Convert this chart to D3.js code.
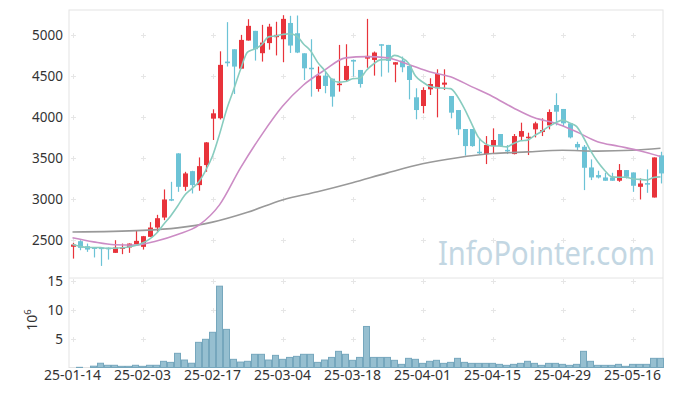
<!DOCTYPE html>
<html>
<head>
<meta charset="utf-8">
<script src="https://cdn.jsdelivr.net/npm/d3@7"></script>
<style>
  body { margin: 0; background: #fff; }
  svg text { font-family: "Noto Sans", sans-serif; }
</style>
</head>
<body>
<div id="chart"></div>
<script>
// trading days shown on the chart
var dates = [
  "25-01-14","25-01-15","25-01-16","25-01-17","25-01-20","25-01-21","25-01-22","25-01-23","25-01-24","25-01-31",
  "25-02-03","25-02-04","25-02-05","25-02-06","25-02-07","25-02-10","25-02-11","25-02-12","25-02-13","25-02-14",
  "25-02-17","25-02-18","25-02-19","25-02-20","25-02-21","25-02-24","25-02-25","25-02-26","25-02-27","25-02-28",
  "25-03-04","25-03-05","25-03-06","25-03-07","25-03-10","25-03-11","25-03-12","25-03-13","25-03-14","25-03-17",
  "25-03-18","25-03-19","25-03-20","25-03-21","25-03-24","25-03-25","25-03-26","25-03-27","25-03-28","25-03-31",
  "25-04-01","25-04-02","25-04-03","25-04-04","25-04-07","25-04-08","25-04-09","25-04-10","25-04-11","25-04-14",
  "25-04-15","25-04-16","25-04-17","25-04-18","25-04-21","25-04-22","25-04-23","25-04-24","25-04-25","25-04-28",
  "25-04-29","25-04-30","25-05-02","25-05-07","25-05-08","25-05-09","25-05-12","25-05-13","25-05-14","25-05-15",
  "25-05-16","25-05-19","25-05-20","25-05-21","25-05-22"
];

var open = [2420,2488,2427,2412,2410,2408,2346,2400,2411,2451,
  2419,2541,2654,2776,3000,3557,3150,3341,3171,3415,
  3980,3985,4675,4825,4589,4931,5049,4777,4900,4972,
  4947,5145,5020,4776,4600,4341,4504,4467,4398,4451,
  4695,4573,4711,4695,4886,4878,4638,4687,4622,4240,
  4134,4337,4350,4394,4256,4085,3854,3854,3577,3549,
  3646,3793,3600,3549,3760,3748,3850,3817,3898,4146,
  4098,3923,3671,3638,3386,3293,3264,3264,3224,3354,
  3325,3150,3195,3020,3533];
var high = [2467,2500,2459,2414,2413,2412,2500,2459,2462,2622,
  2552,2720,2809,3118,3211,3560,3333,3345,3508,3695,
  4094,4800,5155,4825,5000,5191,5049,5122,5135,5160,
  5240,5232,5236,4776,4947,4614,4553,4467,4878,4886,
  4700,4573,5195,4797,4886,4878,4667,4736,4622,4350,
  4362,4472,4581,4581,4256,4085,3854,3854,3740,3768,
  3862,3793,3659,3793,3931,3809,3943,3984,4093,4289,
  4098,3923,3699,3659,3484,3346,3321,3321,3427,3354,
  3325,3252,3362,3508,3577];
var low = [2276,2378,2358,2290,2187,2264,2346,2330,2346,2448,
  2386,2539,2602,2744,2976,3089,3102,3069,3102,3333,
  3720,3970,4615,4280,4589,4931,4687,4675,4820,4750,
  4667,4780,4778,4451,4248,4309,4289,4126,4309,4431,
  4492,4358,4600,4504,4492,4541,4423,4545,4215,3972,
  4045,4268,3996,4329,3984,3780,3530,3638,3550,3427,
  3549,3638,3549,3545,3711,3537,3752,3768,3850,3898,
  3882,3740,3598,3110,3232,3252,3224,3224,3211,3252,
  3089,2996,3077,3020,3191];
var close = [2447,2407,2386,2405,2403,2404,2411,2413,2459,2492,
  2549,2654,2768,2996,2996,3150,3313,3171,3402,3691,
  4045,4635,4655,4614,4939,5110,4825,4906,5100,5000,
  5195,4870,4785,4593,4590,4504,4378,4248,4406,4622,
  4675,4402,4744,4785,4874,4683,4667,4606,4451,4085,
  4329,4402,4524,4419,4053,3850,3646,3646,3565,3659,
  3720,3646,3590,3768,3829,3760,3923,3841,4061,4065,
  3923,3752,3630,3382,3264,3264,3224,3224,3354,3272,
  3163,3191,3183,3508,3313];
// volume in millions
var volume = [0.15,0.2,0.15,0.4,0.9,0.55,0.55,0.37,0.37,0.55,
  0.37,0.55,0.55,1.23,1.05,2.6,1.45,0.9,4.48,5.0,
  6.2,14.1,6.7,1.57,1.1,1.23,2.43,2.43,1.45,2.25,
  1.57,1.9,2.08,2.43,2.43,1.05,1.45,1.9,2.94,2.43,
  1.4,1.9,7.2,1.9,1.9,1.9,1.4,0.71,1.74,1.57,
  0.88,1.23,1.4,0.88,1.05,1.74,1.05,0.88,0.88,0.88,
  0.88,0.71,0.54,0.71,0.88,1.23,0.88,0.54,0.88,0.88,
  0.71,0.54,0.71,2.94,1.23,0.54,0.54,0.54,0.71,0.37,
  0.71,0.71,0.71,1.74,1.74];

// 20 and 60 day averages (day index, value)
var ma20Idx = [0,3,6,9,12,15,18,21,24,27,30,33,36,39,42,45,48,51,54,57,60,63,66,69,72,75,78,81,84];
var ma20Val = [2530,2480,2445,2440,2490,2570,2680,2930,3380,3780,4130,4390,4570,4720,4735,4720,4640,4550,4490,4370,4250,4110,3990,3925,3820,3700,3645,3590,3520];
var ma60Idx = [0,10,15,20,25,30,35,40,45,50,55,60,65,70,75,80,84];
var ma60Val = [2600,2620,2650,2720,2840,2990,3090,3200,3320,3430,3505,3555,3575,3595,3585,3595,3620];

var priceTicks = [2500,3000,3500,4000,4500,5000];
var volTicks = [5,10,15];
var dateTicks = d3.range(0, 85, 10);

var W = 673, H = 396;
var left = 69, right = 664, pTop = 10, pBot = 277, vTop = 278, vBot = 367.5;
var upColor = "#e8333b", downColor = "#6cc3d6";

var svg = d3.select("#chart").append("svg")
  .attr("width", W).attr("height", H);

var x = d3.scaleBand().domain(d3.range(dates.length)).range([left, right]);
var cx = function(i){ return x(i) + x.bandwidth()/2; };
var y = d3.scaleLinear().domain([2052, 5303]).range([pBot, pTop]);
var yv = d3.scaleLinear().domain([0, 15.5]).range([368.5, 278]);

// watermark (squeezed a bit to match the narrow original lettering)
svg.append("text")
  .attr("transform", "translate(655,265) scale(0.91,1)")
  .attr("text-anchor", "end")
  .style("font-size", "32px")
  .style("fill", "#c3d7e3")
  .text("InfoPointer.com");

// frame
var frame = svg.append("g").attr("stroke", "#e4e4e4").attr("fill", "none");
frame.append("rect").attr("x", left).attr("y", pTop).attr("width", right - left - 1).attr("height", vBot - pTop);
frame.append("line").attr("x1", left).attr("x2", right - 1).attr("y1", vTop).attr("y2", vTop);

// grid crosses
var grid = svg.append("g").attr("stroke", "#e6e6e6").attr("stroke-width", 1);
function crosses(vals, sc){
  dateTicks.forEach(function(t){
    vals.forEach(function(v){
      var px = Math.round(cx(t)) + 0.5, py = Math.round(sc(v)) + 0.5;
      grid.append("line").attr("x1", px - 2.5).attr("x2", px + 2.5).attr("y1", py).attr("y2", py);
      grid.append("line").attr("x1", px).attr("x2", px).attr("y1", py - 2.5).attr("y2", py + 2.5);
    });
  });
}
crosses(priceTicks, y);
crosses(volTicks, yv);

// axes
var axP = svg.append("g").attr("transform", "translate(" + left + ",0)")
  .call(d3.axisLeft(y).tickValues(priceTicks).tickSize(0).tickPadding(6).tickFormat(d3.format("d")));
var axV = svg.append("g").attr("transform", "translate(" + left + ",0)")
  .call(d3.axisLeft(yv).tickValues(volTicks).tickSize(0).tickPadding(6));
var axX = svg.append("g").attr("transform", "translate(0," + vBot + ")")
  .call(d3.axisBottom(x).tickValues(dateTicks).tickSize(0).tickPadding(3).tickFormat(function(i){ return dates[i]; }));
[axP, axV, axX].forEach(function(a){
  a.select(".domain").remove();
  a.selectAll("text").style("font-size", "13.5px").style("fill", "#333");
});
axX.selectAll("text").style("font-size", "14px");

var ylab = svg.append("text")
  .attr("transform", "translate(37,320) rotate(-90)")
  .attr("text-anchor", "middle")
  .style("font-size", "14px").style("fill", "#333");
ylab.append("tspan").text("10");
ylab.append("tspan").attr("dy", -6).style("font-size", "9.5px").text("6");

// volume bars
svg.append("g").selectAll("rect").data(volume).enter().append("rect")
  .attr("x", function(d, i){ return x(i) + 0.5; })
  .attr("width", x.bandwidth() - 1)
  .attr("y", function(d){ return yv(d); })
  .attr("height", function(d){ return Math.max(0, vBot - yv(d)); })
  .attr("fill", "#96bfd0")
  .attr("stroke", "#76a7bd")
  .attr("stroke-width", 1);

// candles
var days = d3.range(dates.length);
var cg = svg.append("g");
cg.selectAll("line").data(days).enter().append("line")
  .attr("x1", function(i){ return Math.round(cx(i)) + 0.5; })
  .attr("x2", function(i){ return Math.round(cx(i)) + 0.5; })
  .attr("y1", function(i){ return y(high[i]); })
  .attr("y2", function(i){ return y(low[i]); })
  .attr("stroke", function(i){ return close[i] >= open[i] ? upColor : downColor; })
  .attr("stroke-width", 1.2);
cg.selectAll("rect").data(days).enter().append("rect")
  .attr("x", function(i){ return Math.round(cx(i)) - 2; })
  .attr("width", 5)
  .attr("y", function(i){ return y(Math.max(open[i], close[i])); })
  .attr("height", function(i){ return Math.max(1.5, Math.abs(y(open[i]) - y(close[i]))); })
  .attr("fill", function(i){ return close[i] >= open[i] ? upColor : downColor; });

// moving averages
var ma5 = close.map(function(c, i){
  return d3.mean(close.slice(Math.max(0, i - 4), i + 1));
});
var line = d3.line().x(function(d){ return cx(d[0]); }).y(function(d){ return y(d[1]); });

svg.append("path")
  .datum(ma60Idx.map(function(d, k){ return [d, ma60Val[k]]; }))
  .attr("d", line.curve(d3.curveMonotoneX))
  .attr("fill", "none").attr("stroke", "#999").attr("stroke-width", 1.6);
svg.append("path")
  .datum(ma20Idx.map(function(d, k){ return [d, ma20Val[k]]; }))
  .attr("d", line.curve(d3.curveMonotoneX))
  .attr("fill", "none").attr("stroke", "#cc8cc5").attr("stroke-width", 1.6);
svg.append("path")
  .datum(ma5.map(function(d, i){ return [i, d]; }))
  .attr("d", line.curve(d3.curveMonotoneX))
  .attr("fill", "none").attr("stroke", "#88ccbf").attr("stroke-width", 1.6);
</script>
</body>
</html>
